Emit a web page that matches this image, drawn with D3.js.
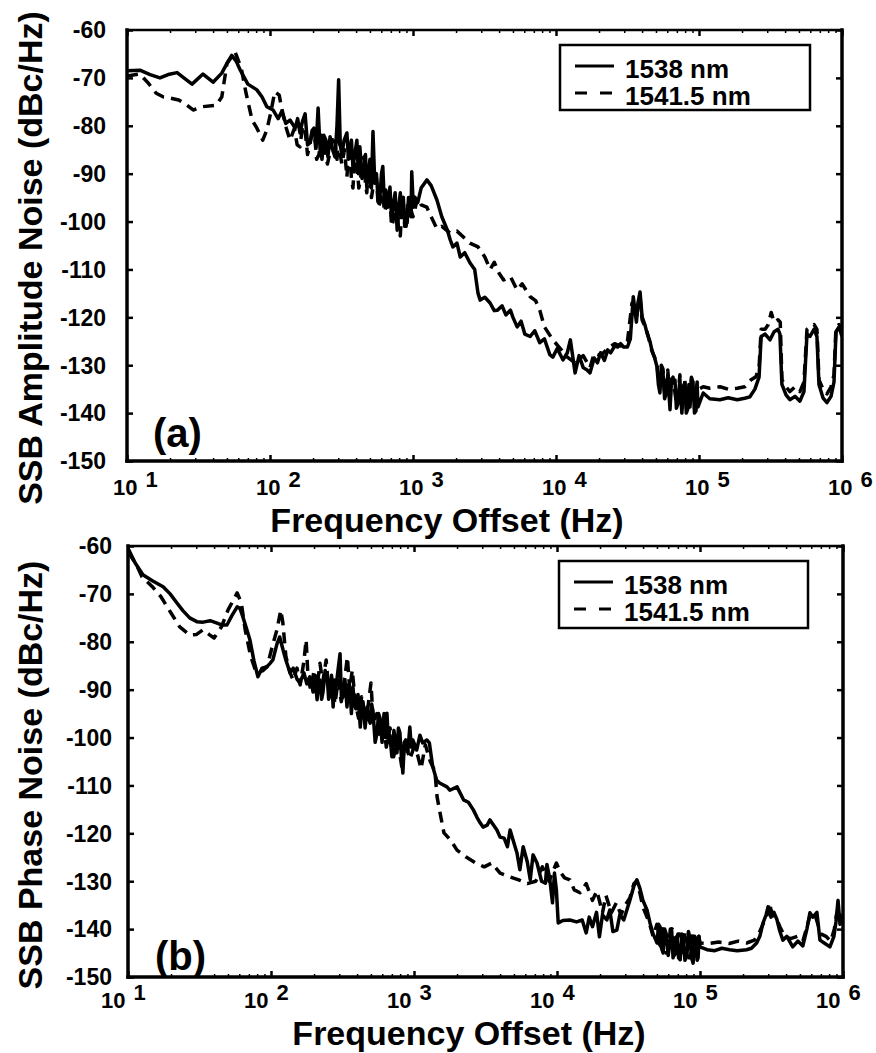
<!DOCTYPE html>
<html>
<head>
<meta charset="utf-8">
<script src="https://cdn.jsdelivr.net/npm/d3@7"></script>
<style>
  body { margin: 0; background: #fff; }
  text { font-family: "Liberation Sans", Arial, Helvetica, sans-serif; font-weight: bold; fill: #000; }
</style>
</head>
<body>
<svg width="876" height="1053"></svg>
<script>
// decade ticks and their exponents
const xTicks = [10, 100, 1e3, 1e4, 1e5, 1e6];
const xTickExp = ["1", "2", "3", "4", "5", "6"];
const yTicks = [-60, -70, -80, -90, -100, -110, -120, -130, -140, -150];
const seriesNames = ["1538 nm", "1541.5 nm"];

// (a) SSB amplitude noise, [Hz, dBc/Hz]
const ampSolid = [[10,-68.5],[12.3,-68.4],[14.5,-69.3],[17,-70],[19.4,-69.3],[22.4,-68.9],[25.5,-70.2],[28.5,-71.3],[34,-69.2],[40,-70.9],[46,-69],[51,-66.5],[54,-65.3],[58,-66.5],[62,-68.4],[70,-71.3],[81,-72.5],[88,-74],[95,-76],[105,-76.7],[114,-78.5],[121,-77],[129,-79.5],[138,-78.8],[150,-80.5],[156,-78.5],[162,-81.5],[169,-79],[176,-77.5],[183,-84],[190,-83.6],[197,-81],[203,-80.5],[210,-84.5],[217,-76.3],[224,-85],[231,-87],[238,-82],[246,-83],[254,-86.5],[263,-82.3],[274,-85],[285,-86.5],[294,-80],[302,-70.4],[310,-84],[318,-86],[330,-83],[345,-81.5],[354,-87],[362,-85],[371,-83],[380,-88.6],[392,-86],[405,-83],[415,-90],[425,-84.4],[440,-91],[455,-89],[465,-86],[475,-92.7],[488,-90],[500,-87],[512,-93],[525,-81.2],[540,-92],[555,-90],[572,-96],[590,-94],[602,-90],[615,-88.5],[630,-96],[645,-93.4],[668,-97],[690,-92.8],[708,-99],[725,-97],[750,-94],[775,-101.8],[795,-97],[815,-94],[835,-99],[855,-94.9],[875,-100],[895,-99],[910,-100.3],[930,-95],[955,-96],[968,-99],[980,-89.6],[1005,-97],[1030,-94.9],[1080,-96],[1140,-93],[1250,-91.3],[1340,-92.5],[1470,-95.5],[1590,-99],[1740,-101.8],[1820,-103.8],[1900,-105.3],[2030,-104.5],[2140,-107.4],[2300,-106.5],[2500,-108.6],[2700,-110],[2850,-115],[2950,-116.4],[3180,-115.8],[3460,-117],[3700,-118.6],[3900,-118.5],[4200,-117.6],[4460,-119.5],[4800,-118.5],[5000,-120],[5350,-122],[5700,-120.8],[6050,-123.5],[6600,-124],[7100,-122.8],[7700,-125.3],[8300,-124.5],[9050,-127.8],[9500,-128.3],[10200,-126.5],[11200,-128.9],[12000,-127.4],[12600,-124.7],[13600,-131.6],[14500,-128],[15500,-130.5],[16500,-131],[17300,-131.6],[18500,-128.5],[19500,-129.5],[20500,-127.4],[21800,-129],[23000,-126.8],[24100,-127.4],[25700,-126],[27000,-126.2],[28300,-125.5],[29700,-126.2],[31600,-126.2],[33100,-124.5],[34700,-115.7],[36500,-121],[37400,-117],[38700,-114.7],[40000,-119.9],[41800,-121.5],[43300,-123.3],[45400,-125],[46800,-126.8],[49000,-128.5],[50800,-130.3],[52000,-134],[53300,-135.8],[54500,-130.5],[56000,-131.6],[57500,-137],[58800,-136],[60500,-132],[62700,-139.3],[64000,-134],[65800,-133.5],[67900,-133.1],[69500,-139],[71300,-138],[73500,-133],[75900,-140],[77500,-134.5],[79500,-133.7],[81500,-140],[83700,-139],[85000,-134],[86500,-138.7],[88500,-133],[90800,-133.7],[93000,-140],[95300,-139.5],[97000,-134],[98400,-138.7],[107000,-135.8],[119000,-137],[140000,-137.2],[160000,-136.8],[185000,-137.2],[209000,-136.9],[227000,-136.6],[246000,-135],[263000,-132.5],[272000,-124],[290000,-123.5],[314000,-124.7],[335000,-123],[357000,-122.5],[368000,-123.5],[380000,-134],[406000,-136.2],[432000,-137.2],[469000,-136.5],[508000,-137.5],[542000,-135.5],[569000,-123.5],[597000,-124],[637000,-122.5],[668000,-124],[690000,-134],[736000,-136.8],[785000,-137.8],[838000,-136.5],[879000,-133.5],[908000,-123],[953000,-122],[1000000,-124]];

const ampDashed = [[10,-69.6],[12.3,-69.2],[14,-71],[16,-73.2],[18,-74],[20,-74.2],[23,-74.6],[26,-75.6],[29,-76.7],[34,-76],[42,-75.7],[46,-74],[50,-67],[57,-64.6],[63,-68],[68,-73.2],[75,-78.8],[81,-80.5],[89,-83],[95,-80.9],[101,-77.4],[108,-72.9],[116,-73.6],[120,-76],[130,-80.5],[138,-83],[148,-80.6],[155,-84],[162,-84.4],[169,-80],[176,-81],[183,-86],[190,-84],[197,-81.5],[205,-82],[212,-87],[220,-86],[230,-82],[240,-84],[252,-88],[263,-85.5],[274,-82],[285,-83.5],[294,-87],[302,-79],[310,-86],[318,-88],[332,-85],[345,-90.7],[354,-86],[362,-86],[371,-91],[380,-93],[392,-87],[405,-88],[418,-93],[430,-91],[442,-87],[455,-86.5],[465,-92],[475,-94],[488,-89],[500,-89.5],[512,-95],[525,-93],[540,-89],[555,-91],[572,-97],[590,-96],[602,-92],[615,-93],[630,-98],[645,-97],[668,-94],[690,-95],[708,-101],[725,-100],[750,-96],[775,-98],[795,-102],[815,-103],[835,-97],[855,-96],[875,-101],[895,-101],[925,-96],[955,-97],[1000,-99],[1080,-95],[1140,-96.5],[1250,-97],[1340,-99],[1470,-101.5],[1590,-101],[1820,-102.4],[2030,-102],[2300,-103.5],[2500,-104.5],[2850,-105.3],[3180,-107.4],[3460,-110],[3700,-108.5],[4000,-110.8],[4300,-112.2],[4800,-111.5],[5350,-114.3],[5800,-113],[6600,-115.7],[7200,-116.5],[7700,-118.5],[8300,-122],[9500,-124.7],[10500,-126.2],[12000,-128.3],[13600,-129.5],[15500,-128],[17300,-130.5],[18500,-127.5],[20500,-128],[23000,-126.5],[25700,-125.5],[28300,-126],[31600,-125],[34000,-117],[36500,-120],[38700,-116],[40000,-120.5],[43300,-123],[46800,-127],[50800,-129.5],[52000,-133],[53300,-134],[54500,-130],[56000,-130.8],[57500,-136],[58800,-135],[60500,-131],[62700,-137.8],[64000,-133],[65800,-132.5],[69500,-138],[71300,-136.5],[73500,-132],[75900,-139],[77500,-133.5],[79500,-133],[82000,-139],[86500,-137.5],[88500,-132.5],[90800,-133.5],[93000,-139],[95300,-138],[97000,-133.5],[100000,-135],[107000,-134.5],[119000,-134.8],[140000,-134.5],[160000,-135],[185000,-134.8],[209000,-134.5],[230000,-133.1],[250000,-132.4],[263000,-130.5],[272000,-122.5],[290000,-122.5],[305000,-121.5],[320000,-119],[335000,-121],[357000,-120.5],[370000,-121],[380000,-133],[406000,-134.5],[432000,-135.5],[469000,-134.5],[508000,-135.5],[542000,-133.5],[569000,-122.5],[597000,-122],[637000,-121.5],[668000,-122.5],[690000,-133],[736000,-135],[785000,-136],[838000,-134.5],[879000,-132],[908000,-122],[953000,-121.5],[1000000,-122]];

// (b) SSB phase noise, [Hz, dBc/Hz]
const phaseSolid = [[10,-60.5],[11.2,-63.5],[12.7,-66],[14.9,-67.3],[17.6,-68.5],[19.7,-70],[22,-71.9],[24.2,-73.5],[27,-75],[30.3,-75.8],[33.5,-75.9],[37.5,-75.6],[42,-76.1],[45.5,-76.5],[49.2,-76.5],[53.4,-74.5],[58,-72.7],[60.6,-73],[63.6,-74.8],[67.8,-77.5],[71.2,-79.6],[76,-84],[81,-87.3],[86.6,-85.5],[93.8,-85.2],[98.5,-84.5],[103,-83.8],[110,-80.5],[115,-79],[121,-81.5],[127,-83.8],[136,-86.5],[143,-85.5],[152,-87.8],[159,-88.6],[170,-86.5],[178,-88.8],[187,-87.3],[197,-90.5],[203,-87],[210,-92.1],[215,-88.5],[220,-88],[226,-92],[231,-90.5],[239,-86],[247,-87.3],[253,-92],[259,-91],[265,-87],[272,-93.6],[278,-88],[285,-89.5],[294,-86],[304,-82.5],[311,-92],[318,-91.5],[329,-88],[340,-93.6],[348,-89],[357,-90],[365,-95],[374,-89.4],[383,-93],[392,-94],[406,-91],[421,-97.8],[430,-94],[440,-92.5],[455,-98],[470,-93.6],[482,-96],[494,-97],[506,-93],[518,-95],[535,-101],[552,-99],[565,-95],[579,-96],[598,-101],[617,-95],[632,-100],[647,-94.9],[662,-101],[678,-99.5],[700,-104],[724,-98.5],[742,-101],[760,-103.2],[778,-98],[797,-99],[816,-104],[836,-107.4],[856,-101],[876,-100.5],[905,-103],[935,-97.8],[958,-102],[981,-100.5],[1045,-102.6],[1100,-99.5],[1150,-101.1],[1230,-100.5],[1280,-101.1],[1350,-106],[1440,-108.9],[1510,-109.5],[1700,-110.3],[1780,-111],[2000,-110.3],[2220,-113],[2400,-113.5],[2600,-115.1],[2750,-116.6],[2900,-117.8],[3040,-118.7],[3250,-118.3],[3400,-117.2],[3800,-119.3],[4000,-120.8],[4270,-121],[4500,-122.8],[4700,-119.3],[5000,-122],[5250,-124.1],[5500,-127.6],[5800,-122.8],[6200,-126],[6500,-129.7],[6800,-124.5],[7250,-126.2],[7800,-130],[8300,-130.4],[8500,-126.5],[8900,-129.5],[9300,-134.5],[9600,-128.3],[9900,-131.8],[10200,-138.7],[11000,-138.2],[12300,-138.1],[13700,-138.5],[15000,-138.1],[16000,-140.8],[16800,-137.5],[17700,-139.5],[18900,-136.5],[19800,-141.6],[20800,-137],[22300,-138.1],[23400,-136],[24600,-140.5],[26200,-140.2],[27500,-137],[29300,-138.1],[30800,-136],[32300,-134],[34500,-131],[36200,-129.7],[38000,-131.5],[39900,-134],[42600,-136],[44700,-138.7],[47000,-141],[50100,-142.9],[51300,-139],[52500,-139.5],[53800,-144],[55200,-145],[56600,-140],[58000,-141],[59900,-145.5],[61800,-142.5],[63300,-140],[64800,-146],[66800,-142],[69000,-141.5],[70800,-146],[72700,-146.4],[74500,-141],[76300,-142],[78500,-146.5],[81000,-145.5],[83000,-140.5],[85000,-141.8],[87200,-146],[89500,-147.1],[91800,-141.5],[94000,-142],[95500,-146.5],[97000,-146],[98500,-141.5],[100000,-143.7],[112000,-144.3],[127000,-144.5],[142000,-144],[161000,-144.3],[182000,-144.5],[212000,-144.3],[229000,-144],[249000,-142.9],[262000,-141.5],[276000,-138.7],[290000,-137],[299000,-135.4],[314000,-137.5],[329000,-136.5],[345000,-138],[362000,-140.5],[380000,-142.3],[405000,-141.5],[445000,-143.7],[483000,-142.5],[524000,-143.5],[559000,-140],[587000,-136.6],[616000,-137.5],[657000,-136.5],[690000,-142.3],[748000,-143],[810000,-143.7],[864000,-141.5],[893000,-138.5],[923000,-134],[953000,-139],[1000000,-137]];

const phaseDashed = [[10,-61.2],[11.5,-64],[12.5,-66.4],[14.8,-68.5],[17,-70.6],[20,-74],[23,-76.9],[27,-78.6],[30,-78.5],[33.5,-77.5],[37,-78.5],[40,-79.2],[45,-76.9],[50,-73.4],[58,-69.8],[62,-71.9],[66,-77.5],[72,-83],[79,-86.5],[88,-86],[94,-85.2],[102,-81],[110,-77.5],[117,-73.4],[121,-76],[127,-83],[136,-86.5],[143,-88],[152,-85.5],[160,-89],[170,-84],[176,-79.6],[182,-88],[190,-90],[200,-86],[210,-89.5],[220,-84.5],[230,-88.5],[243,-83.8],[255,-91],[265,-87.5],[280,-93],[295,-88],[310,-92.5],[330,-87],[342,-83.2],[355,-90],[370,-85.9],[390,-93],[410,-96],[430,-91.5],[455,-95.5],[475,-94],[500,-88.6],[520,-97],[550,-95],[580,-100],[610,-96],[640,-102],[680,-98],[720,-104],[770,-100.5],[820,-106],[870,-101],[935,-104.5],[1000,-102],[1050,-103.2],[1120,-106.5],[1200,-101.5],[1300,-105],[1400,-107],[1450,-112.4],[1550,-117],[1620,-119.9],[1800,-121.4],[2000,-123.5],[2300,-124.9],[2700,-126.2],[3100,-127],[3500,-126.2],[4000,-128.3],[4700,-129.1],[5400,-129.7],[6200,-130.5],[7100,-130],[7900,-127],[8800,-130],[9900,-126.2],[10500,-128],[11300,-129.3],[12300,-129.7],[13200,-131.8],[14500,-132.4],[16000,-130.5],[17700,-134],[19000,-132],[20800,-136.6],[22000,-133],[24000,-136.6],[26000,-134.5],[28000,-137],[30000,-135],[32300,-133.5],[34500,-130.5],[36200,-130],[38000,-132.5],[40000,-135.5],[42600,-137.5],[45000,-139.5],[47000,-141.5],[50000,-139],[51500,-143],[53000,-143.5],[54500,-139.5],[56000,-140.5],[58000,-145],[60000,-144.5],[62000,-140],[64000,-140],[66000,-145.5],[68000,-145],[70000,-141],[72000,-141],[74000,-145],[76000,-144.5],[78500,-140.5],[81000,-141.5],[83500,-146],[86000,-146],[88500,-141],[91000,-141],[93500,-145.5],[96000,-145],[98000,-141.5],[100000,-142.9],[115000,-143],[135000,-142.7],[160000,-143],[185000,-142.5],[212000,-142.9],[240000,-142.3],[262000,-140.5],[280000,-138.5],[295000,-137],[305000,-134.5],[320000,-137],[340000,-137.5],[362000,-139.5],[390000,-141.5],[430000,-142],[480000,-141.5],[524000,-142.5],[560000,-139.5],[590000,-137],[630000,-136.5],[660000,-138.5],[700000,-141],[760000,-141.5],[820000,-142.5],[870000,-140],[900000,-137],[930000,-135.5],[960000,-138],[1000000,-136.5]];

const svg = d3.select("svg");

const panels = [
  { tag: "(a)", solid: ampSolid, dashed: ampDashed, yTitle: "SSB Amplitude Noise (dBc/Hz)",
    left: 127, top: 30, right: 842, bottom: 461,
    yLabelX: 106, xLabelDx: -14, xLabelY: 495, xTitleX: 447, xTitleY: 532, yTitleY: 258,
    tagX: 153, tagY: 447, legend: { x: 560, y: 45, w: 250, h: 65 } },
  { tag: "(b)", solid: phaseSolid, dashed: phaseDashed, yTitle: "SSB Phase Noise (dBc/Hz)",
    left: 128, top: 546, right: 843, bottom: 977,
    yLabelX: 112, xLabelDx: -27, xLabelY: 1008, xTitleX: 469, xTitleY: 1045, yTitleY: 775,
    tagX: 155, tagY: 970, legend: { x: 559, y: 561, w: 249, h: 67 } }
];

function drawPanel(p, i) {
  const x = d3.scaleLog().domain([10, 1e6]).range([p.left, p.right]);
  const y = d3.scaleLinear().domain([-150, -60]).range([p.bottom, p.top]);
  const g = svg.append("g");

  const clipId = "clip" + i;
  svg.append("clipPath").attr("id", clipId)
    .append("rect")
    .attr("x", p.left).attr("y", p.top)
    .attr("width", p.right - p.left).attr("height", p.bottom - p.top);

  const line = d3.line().x(d => x(d[0])).y(d => y(d[1]));

  // curves
  g.append("path")
    .datum(p.dashed)
    .attr("clip-path", `url(#${clipId})`)
    .attr("d", line)
    .attr("fill", "none")
    .attr("stroke", "#000")
    .attr("stroke-width", 3.5)
    .attr("stroke-linejoin", "round")
    .attr("stroke-dasharray", "11,7");

  g.append("path")
    .datum(p.solid)
    .attr("clip-path", `url(#${clipId})`)
    .attr("d", line)
    .attr("fill", "none")
    .attr("stroke", "#000")
    .attr("stroke-width", 3.5)
    .attr("stroke-linejoin", "round");

  // ticks (inward), minor log ticks on top and bottom
  const minor = x.ticks().filter(t => !xTicks.includes(t));
  const tickStyle = (sel, w) => {
    sel.select(".domain").remove();
    sel.selectAll(".tick line").attr("stroke", "#000").attr("stroke-width", w);
  };
  g.append("g").attr("transform", `translate(0,${p.bottom})`)
    .call(d3.axisBottom(x).tickValues(minor).tickSize(-3).tickFormat(""))
    .call(s => tickStyle(s, 1.5));
  g.append("g").attr("transform", `translate(0,${p.top})`)
    .call(d3.axisTop(x).tickValues(minor).tickSize(-3).tickFormat(""))
    .call(s => tickStyle(s, 1.5));
  g.append("g").attr("transform", `translate(0,${p.bottom})`)
    .call(d3.axisBottom(x).tickValues(xTicks).tickSize(-6).tickFormat(""))
    .call(s => tickStyle(s, 2.5));
  g.append("g").attr("transform", `translate(0,${p.top})`)
    .call(d3.axisTop(x).tickValues(xTicks).tickSize(-6).tickFormat(""))
    .call(s => tickStyle(s, 2.5));
  g.append("g").attr("transform", `translate(${p.left},0)`)
    .call(d3.axisLeft(y).tickValues(yTicks).tickSize(-6).tickFormat(""))
    .call(s => tickStyle(s, 2.5));
  g.append("g").attr("transform", `translate(${p.right},0)`)
    .call(d3.axisRight(y).tickValues(yTicks).tickSize(-6).tickFormat(""))
    .call(s => tickStyle(s, 2.5));

  // frame
  const frame = [
    [p.left, p.top, p.right, p.top, 2.5],
    [p.left, p.bottom, p.right, p.bottom, 3.5],
    [p.left, p.top, p.left, p.bottom, 3.5],
    [p.right, p.top, p.right, p.bottom, 3.5]
  ];
  g.selectAll(".frame").data(frame).join("line")
    .attr("x1", d => d[0]).attr("y1", d => d[1])
    .attr("x2", d => d[2]).attr("y2", d => d[3])
    .attr("stroke", "#000").attr("stroke-width", d => d[4])
    .attr("stroke-linecap", "square");

  // y tick labels
  g.selectAll(".ylab").data(yTicks).join("text")
    .attr("x", p.yLabelX)
    .attr("y", d => y(d))
    .attr("dy", "0.36em")
    .attr("text-anchor", "end")
    .style("font-size", "23px")
    .text(d => d);

  // x tick labels: 10 with superscript exponent
  const xl = g.selectAll(".xlab").data(xTicks).join("text")
    .attr("x", d => x(d) + p.xLabelDx)
    .attr("y", p.xLabelY)
    .style("font-size", "22px");
  xl.append("tspan").text("10");
  xl.append("tspan").attr("dx", 8).attr("dy", -8).text((d, j) => xTickExp[j]);

  // axis titles
  g.append("text")
    .attr("x", p.xTitleX).attr("y", p.xTitleY)
    .attr("text-anchor", "middle")
    .style("font-size", "34px")
    .text("Frequency Offset (Hz)");
  g.append("text")
    .attr("transform", `translate(42,${p.yTitleY}) rotate(-90)`)
    .attr("text-anchor", "middle")
    .style("font-size", "34px")
    .text(p.yTitle);

  // panel tag
  g.append("text")
    .attr("x", p.tagX).attr("y", p.tagY)
    .style("font-size", "40px")
    .text(p.tag);

  // legend
  const L = p.legend;
  const lg = g.append("g");
  lg.append("rect")
    .attr("x", L.x).attr("y", L.y).attr("width", L.w).attr("height", L.h)
    .attr("fill", "#fff").attr("stroke", "#000").attr("stroke-width", 2.5);
  seriesNames.forEach((name, j) => {
    const ly = L.y + 21 + j * 27;
    lg.append("line")
      .attr("x1", L.x + 15).attr("x2", L.x + 54)
      .attr("y1", ly).attr("y2", ly)
      .attr("stroke", "#000").attr("stroke-width", 3)
      .attr("stroke-dasharray", j === 0 ? null : "12,13");
    lg.append("text")
      .attr("x", L.x + 65).attr("y", ly + 12)
      .style("font-size", "26px")
      .text(name);
  });
}

panels.forEach(drawPanel);
</script>
</body>
</html>
